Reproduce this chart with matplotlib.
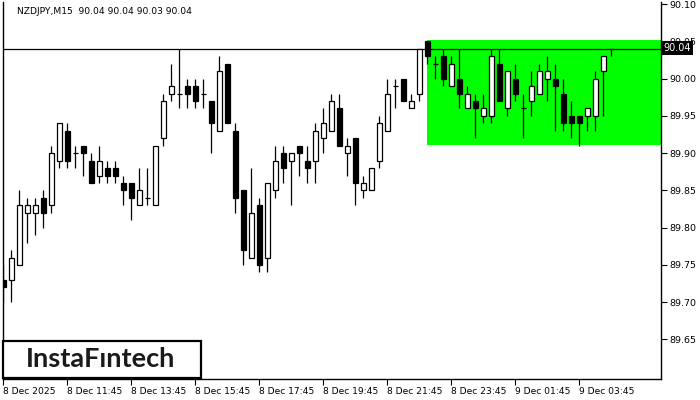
import matplotlib.pyplot as plt
import numpy as np
from matplotlib.patches import Rectangle

plt.rcParams["font.family"] = ["DejaVu Sans"]

symbol_text = "NZDJPY,M15  90.04 90.04 90.03 90.04"

opens = [89.73, 89.73, 89.75, 89.82, 89.82, 89.84, 89.83, 89.89, 89.93, 89.90,
         89.91, 89.89, 89.87, 89.88, 89.88, 89.86, 89.86, 89.83, 89.84, 89.83,
         89.92, 89.98, 89.98, 89.99, 89.99, 89.98, 89.97, 89.93, 90.02, 89.93,
         89.85, 89.76, 89.83, 89.76, 89.85, 89.90, 89.89, 89.91, 89.89, 89.89,
         89.92, 89.93, 89.96, 89.90, 89.92, 89.85, 89.85, 89.89, 89.93, 89.99,
         90.00, 89.96, 89.98, 90.05, 90.02, 90.03, 89.99, 90.00, 89.96, 89.97,
         89.95, 89.95, 90.02, 89.96, 90.00, 89.96, 89.97, 89.98, 90.00, 90.00,
         89.98, 89.95, 89.95, 89.95, 89.95, 90.01, 90.04]
highs = [89.75, 89.77, 89.85, 89.84, 89.84, 89.85, 89.91, 89.94, 89.94, 89.91,
         89.91, 89.90, 89.91, 89.89, 89.89, 89.87, 89.86, 89.88, 89.88, 89.91,
         89.98, 90.02, 90.04, 90.00, 90.00, 90.00, 89.97, 90.03, 90.02, 89.94,
         89.85, 89.88, 89.84, 89.86, 89.91, 89.91, 89.90, 89.91, 89.91, 89.94,
         89.96, 89.98, 89.98, 89.92, 89.92, 89.87, 89.88, 89.95, 90.00, 90.00,
         90.00, 89.98, 90.04, 90.05, 90.03, 90.04, 90.03, 90.04, 89.99, 89.98,
         89.98, 90.04, 90.04, 90.01, 90.02, 89.98, 90.01, 90.02, 90.03, 90.02,
         90.00, 89.97, 89.95, 89.96, 90.01, 90.03, 90.04]
lows = [89.70, 89.70, 89.75, 89.78, 89.79, 89.80, 89.82, 89.88, 89.88, 89.88,
        89.87, 89.86, 89.86, 89.86, 89.86, 89.83, 89.81, 89.83, 89.83, 89.83,
        89.91, 89.97, 89.96, 89.96, 89.96, 89.96, 89.90, 89.93, 89.94, 89.82,
        89.75, 89.76, 89.74, 89.74, 89.84, 89.86, 89.83, 89.87, 89.86, 89.86,
        89.90, 89.93, 89.91, 89.87, 89.83, 89.84, 89.85, 89.88, 89.93, 89.96,
        89.97, 89.96, 89.97, 90.02, 90.00, 89.99, 89.99, 89.96, 89.96, 89.92,
        89.94, 89.94, 89.97, 89.95, 89.97, 89.92, 89.95, 89.98, 89.97, 89.93,
        89.93, 89.92, 89.91, 89.93, 89.93, 89.95, 90.03]
closes = [89.72, 89.76, 89.83, 89.83, 89.83, 89.82, 89.90, 89.94, 89.89, 89.90,
          89.90, 89.86, 89.89, 89.87, 89.87, 89.85, 89.84, 89.85, 89.84, 89.91,
          89.97, 89.99, 89.98, 89.98, 89.97, 89.98, 89.94, 90.01, 89.94, 89.84,
          89.77, 89.82, 89.75, 89.86, 89.89, 89.88, 89.90, 89.90, 89.88, 89.93,
          89.94, 89.97, 89.91, 89.91, 89.86, 89.86, 89.88, 89.94, 89.98, 89.99,
          89.97, 89.97, 90.04, 90.03, 90.02, 90.00, 90.02, 89.98, 89.98, 89.96,
          89.96, 90.03, 89.97, 90.01, 89.98, 89.96, 89.99, 90.01, 90.01, 89.99,
          89.94, 89.94, 89.94, 89.96, 90.00, 90.03, 90.04]

time_labels = ["8 Dec 2025", "8 Dec 11:45", "8 Dec 13:45", "8 Dec 15:45", "8 Dec 17:45",
               "8 Dec 19:45", "8 Dec 21:45", "8 Dec 23:45", "9 Dec 01:45", "9 Dec 03:45"]
price_ticks = [89.65, 89.70, 89.75, 89.80, 89.85, 89.90, 89.95, 90.00, 90.05, 90.10]

zone_start = 52.9
zone_low = 89.911
zone_high = 90.052
current_price = 90.04


def draw_candles(ax, o, h, l, c, width=0.56):
    o, h, l, c = map(np.asarray, (o, h, l, c))
    x = np.arange(len(o))
    ax.vlines(x, l, h, color="black", linewidth=0.9, zorder=3)
    up = c > o
    down = c < o
    flat = c == o
    ax.bar(x[up], (c - o)[up], bottom=o[up], width=width, facecolor="white",
           edgecolor="black", linewidth=0.9, zorder=4)
    ax.bar(x[down], (o - c)[down], bottom=c[down], width=width, facecolor="black",
           edgecolor="black", linewidth=0.9, zorder=4)
    ax.hlines(c[flat], x[flat] - width / 2, x[flat] + width / 2, color="black",
              linewidth=0.9, zorder=4)


fig = plt.figure(figsize=(7, 4), dpi=100)
ax = fig.add_axes([3 / 700, 1 - 379 / 400, 658 / 700, 377 / 400])
ax.set_xlim(-0.05, 82.2)
ax.set_ylim(89.597, 90.1028)

# pattern zone runs off the right edge
ax.add_patch(Rectangle((zone_start, zone_low), 40, zone_high - zone_low,
                       facecolor="#00ff00", edgecolor="none", zorder=1))
ax.axhline(current_price, color="black", linewidth=0.9, zorder=2)
draw_candles(ax, opens, highs, lows, closes)

for side in ax.spines.values():
    side.set_linewidth(1.0)
    side.set_color("black")
ax.spines["top"].set_visible(False)

ax.yaxis.tick_right()
ax.set_yticks(price_ticks)
ax.set_yticklabels([f"{p:.2f}" for p in price_ticks])
ax.tick_params(axis="y", direction="out", length=4, width=0.8, pad=2, labelsize=6.8)
ax.set_xticks(np.arange(len(time_labels)) * 8)
ax.set_xticklabels(time_labels, ha="left")
ax.tick_params(axis="x", direction="out", length=4, width=0.8, pad=2, labelsize=6.6)

# current price tag sits over the 90.05 label, as in the terminal
fig.text(677 / 700, 1 - 48.3 / 400, "90.04", color="white", fontsize=7,
         ha="center", va="center",
         bbox=dict(boxstyle="square,pad=0.2", facecolor="black", edgecolor="none"))

fig.text(17 / 700, 1 - 12 / 400, symbol_text, fontsize=6.6, ha="left", va="center")

logo = Rectangle((3 / 700, 1 - 378 / 400), 198 / 700, 37 / 400, transform=fig.transFigure,
                 facecolor="white", edgecolor="black", linewidth=1.6, zorder=5)
fig.patches.append(logo)
fig.text(101 / 700, 1 - 359 / 400, "InstaF\u0131ntech", fontsize=19.5, fontweight="bold",
         family=["Lato", "DejaVu Sans"], color="#1a1a1a", ha="center", va="center", zorder=6)

fig.savefig("out.png", dpi=100)
